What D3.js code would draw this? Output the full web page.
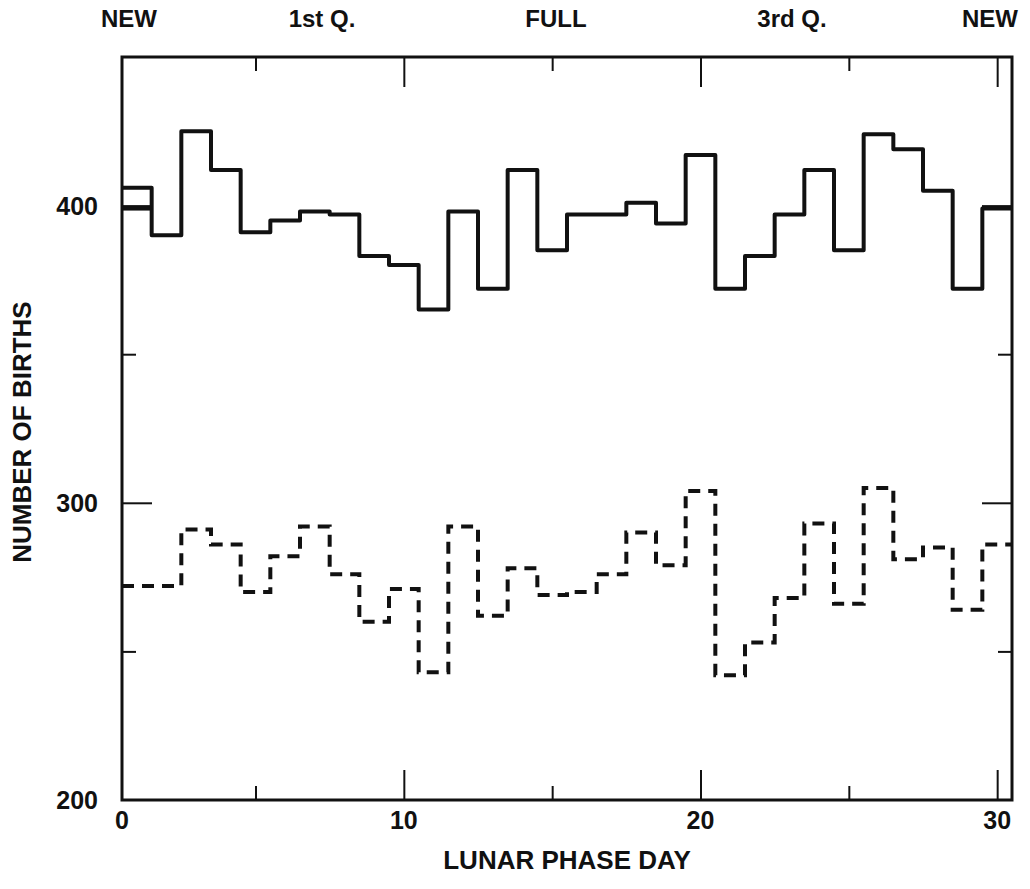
<!DOCTYPE html>
<html>
<head>
<meta charset="utf-8">
<script src="https://cdn.jsdelivr.net/npm/d3@7"></script>
<style>
  html, body { margin: 0; padding: 0; background: #fff; }
  svg text { font-family: 'Liberation Sans', Arial, Helvetica, sans-serif; font-weight: bold; fill: #111; }
</style>
</head>
<body>
<div id="chart"></div>
<script>
// Lunar phase day bins (each bin centred on the day)
const days = d3.range(1, 31);

// Solid series: number of births per lunar day
const solidValues = [
  406, 390, 425, 412, 391, 395, 398, 397, 383, 380,
  365, 398, 372, 412, 385, 397, 397, 401, 394, 417,
  372, 383, 397, 412, 385, 424, 419, 405, 372, 399
];
// day 30 value repeated at the start of the cycle
const solidWrapValue = 399;

// Dashed series
const dashedValues = [
  272, 272, 291, 286, 270, 282, 292, 276, 260, 271,
  243, 292, 262, 278, 269, 270, 276, 290, 279, 304,
  242, 253, 268, 293, 266, 305, 281, 285, 264, 286
];

const yLabelTicks = [200, 300, 400];
const yMajorTicks = [300, 400];
const yMinorTicks = [250, 350];
const xLabelTicks = [0, 10, 20, 30];
const xMajorTicks = [10, 20, 30];
const xMinorTicks = [5, 15, 25];

const phaseLabels = ['NEW', '1st Q.', 'FULL', '3rd Q.', 'NEW'];
const phasePositions = [129, 322, 556, 792, 990];

const W = 1030, H = 889;
const plotLeft = 122, plotRight = 1012, plotTop = 57, plotBottom = 800;

const x = d3.scaleLinear().domain([0.5, 30.5]).range([plotLeft, plotRight]);
const y = d3.scaleLinear().domain([200, 450]).range([plotBottom, plotTop]);

const svg = d3.select('#chart').append('svg')
  .attr('width', W)
  .attr('height', H)
  .attr('viewBox', `0 0 ${W} ${H}`);

// Ticks (inward, major long / minor short) on all four sides
const MAJ = 30, MIN = 14;
function tickAxis(gen, tr, values, size) {
  const g = svg.append('g')
    .attr('transform', tr)
    .call(gen.tickValues(values).tickSize(size).tickFormat(''));
  g.select('.domain').remove();
  g.selectAll('line').attr('stroke', '#111').attr('stroke-width', 2);
}
tickAxis(d3.axisBottom(x), `translate(0,${plotTop})`, xMajorTicks, MAJ);
tickAxis(d3.axisBottom(x), `translate(0,${plotTop})`, xMinorTicks, MIN);
tickAxis(d3.axisTop(x), `translate(0,${plotBottom})`, xMajorTicks, MAJ);
tickAxis(d3.axisTop(x), `translate(0,${plotBottom})`, xMinorTicks, MIN);
tickAxis(d3.axisRight(y), `translate(${plotLeft},0)`, yMajorTicks, MAJ);
tickAxis(d3.axisRight(y), `translate(${plotLeft},0)`, yMinorTicks, MIN);
tickAxis(d3.axisLeft(y), `translate(${plotRight},0)`, yMajorTicks, MAJ);
tickAxis(d3.axisLeft(y), `translate(${plotRight},0)`, yMinorTicks, MIN);

// Frame
svg.append('rect')
  .attr('x', x(0.5))
  .attr('y', y(450))
  .attr('width', x(30.5) - x(0.5))
  .attr('height', y(200) - y(450))
  .attr('fill', 'none')
  .attr('stroke', '#111')
  .attr('stroke-width', 3);

// Step lines
const stepLine = d3.line()
  .x(d => x(d[0]))
  .y(d => y(d[1]))
  .curve(d3.curveStepAfter);

function stepPoints(values) {
  const pts = days.map((d, i) => [d - 0.5, values[i]]);
  pts.push([30.5, values[values.length - 1]]);
  return pts;
}

svg.append('path')
  .datum([[0.5, solidWrapValue], [1.5, solidWrapValue]])
  .attr('d', stepLine)
  .attr('fill', 'none')
  .attr('stroke', '#111')
  .attr('stroke-width', 4);

svg.append('path')
  .datum(stepPoints(solidValues))
  .attr('d', stepLine)
  .attr('fill', 'none')
  .attr('stroke', '#111')
  .attr('stroke-width', 4)
  .attr('stroke-linejoin', 'round');

svg.append('path')
  .datum(stepPoints(dashedValues))
  .attr('d', stepLine)
  .attr('fill', 'none')
  .attr('stroke', '#111')
  .attr('stroke-width', 4)
  .attr('stroke-dasharray', '12,8');

// Tick labels
svg.append('g').selectAll('text')
  .data(yLabelTicks)
  .join('text')
  .attr('x', 98)
  .attr('y', d => y(d))
  .attr('dy', '0.36em')
  .attr('text-anchor', 'end')
  .attr('font-size', 25)
  .text(d => d);

svg.append('g').selectAll('text')
  .data(xLabelTicks)
  .join('text')
  .attr('x', d => Math.max(x(d), x(0.5)))
  .attr('y', 829)
  .attr('text-anchor', 'middle')
  .attr('font-size', 25)
  .text(d => d);

// Phase labels along the top
svg.append('g').selectAll('text')
  .data(phaseLabels)
  .join('text')
  .attr('x', (d, i) => phasePositions[i])
  .attr('y', 27)
  .attr('text-anchor', 'middle')
  .attr('font-size', 24)
  .text(d => d);

// Axis titles
svg.append('text')
  .attr('x', (plotLeft + plotRight) / 2)
  .attr('y', 869)
  .attr('text-anchor', 'middle')
  .attr('font-size', 26)
  .text('LUNAR PHASE DAY');

svg.append('text')
  .attr('transform', 'rotate(-90)')
  .attr('x', -432)
  .attr('y', 31)
  .attr('text-anchor', 'middle')
  .attr('font-size', 26)
  .text('NUMBER OF BIRTHS');
</script>
</body>
</html>
